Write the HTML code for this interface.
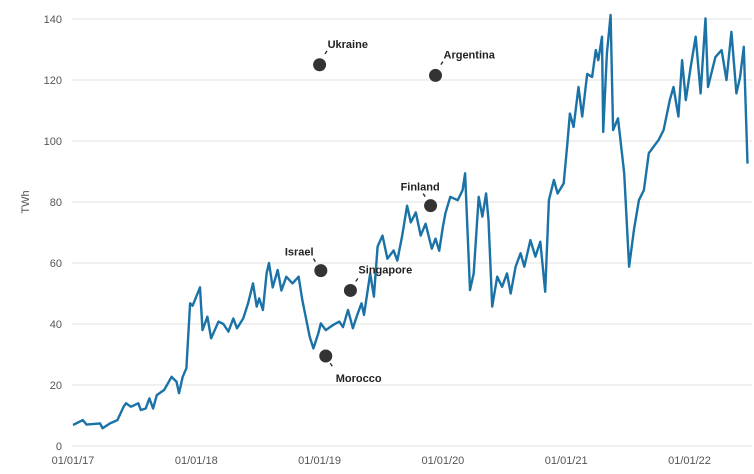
<!DOCTYPE html>
<html><head><meta charset="utf-8"><style>
body{margin:0;background:#fff;}
svg text{font-family:"Liberation Sans",sans-serif;}
.tick{font-size:11px;fill:#555;}
.lbl{font-size:11px;font-weight:bold;fill:#222;}
</style></head><body>
<svg id="chart" width="754" height="469" xmlns="http://www.w3.org/2000/svg">
<g id="grid"></g>
<g id="yaxis"></g>
<g id="xaxis"></g>
<text class="tick" transform="translate(29,202) rotate(-90)" text-anchor="middle">TWh</text>
<path id="line" fill="none" stroke="#1a72a6" stroke-width="2.4" stroke-linejoin="round"></path>
<g id="ann"></g>
</svg>
<script>
const yTicks=[0,20,40,60,80,100,120,140];
const xTickYears=[2017,2018,2019,2020,2021,2022];
const xTickLabels=["01/01/17","01/01/18","01/01/19","01/01/20","01/01/21","01/01/22"];
const dates=[2017.0,2017.08,2017.11,2017.22,2017.24,2017.30,2017.36,2017.41,2017.43,2017.47,2017.53,2017.55,2017.59,2017.62,2017.65,2017.68,2017.74,2017.80,2017.84,2017.86,2017.89,2017.92,2017.95,2017.97,2018.0,2018.03,2018.05,2018.09,2018.12,2018.18,2018.22,2018.26,2018.30,2018.33,2018.38,2018.42,2018.46,2018.49,2018.51,2018.54,2018.57,2018.59,2018.62,2018.66,2018.69,2018.73,2018.78,2018.83,2018.86,2018.92,2018.95,2018.99,2019.01,2019.05,2019.11,2019.16,2019.19,2019.23,2019.27,2019.30,2019.34,2019.36,2019.41,2019.44,2019.47,2019.51,2019.55,2019.60,2019.63,2019.67,2019.71,2019.74,2019.78,2019.82,2019.86,2019.91,2019.94,2019.97,2020.0,2020.02,2020.06,2020.12,2020.16,2020.18,2020.22,2020.25,2020.29,2020.32,2020.35,2020.37,2020.40,2020.44,2020.48,2020.52,2020.55,2020.59,2020.63,2020.66,2020.71,2020.75,2020.79,2020.83,2020.86,2020.90,2020.93,2020.98,2021.01,2021.03,2021.06,2021.10,2021.13,2021.17,2021.21,2021.24,2021.26,2021.29,2021.30,2021.33,2021.36,2021.38,2021.42,2021.47,2021.51,2021.55,2021.59,2021.63,2021.67,2021.71,2021.75,2021.79,2021.84,2021.87,2021.91,2021.94,2021.97,2022.01,2022.05,2022.09,2022.13,2022.15,2022.21,2022.26,2022.30,2022.34,2022.38,2022.41,2022.44,2022.47];
const values=[6.9,8.5,7,7.4,5.8,7.4,8.5,12.9,14,12.9,14,11.8,12.3,15.6,12.3,16.7,18.4,22.7,21,17.3,22.7,25.5,46.8,46,49,52,38,42.4,35.3,40.8,40,37.5,41.8,38.6,41.8,46.8,53.3,45.7,48.4,44.6,56.6,60,52,57.7,51,55.5,53.3,55.5,47.9,35.8,32,37,40.2,38,39.7,40.8,39,44.6,38.6,42.4,46.8,43,56.6,49,65.4,69,61.4,64.1,60.8,69,78.8,73.3,76.6,69,72.9,64.7,68,64,71.9,76.3,81.7,80.6,83.9,89.4,51.1,56.6,81.7,75.2,82.8,74.1,45.7,55.5,52.2,56.6,50,58.8,63.2,58.8,67.5,62.1,67,50.6,80.6,87.2,82.8,86.1,99.3,109,104.6,117.7,108,122,121,129.8,126.5,134.2,103,128.7,141.3,103.6,107.4,89.4,58.8,71,80.6,83.9,96,98.2,100.4,103.6,113.4,117.7,108,126.5,113.4,124.3,134.2,115.6,140.2,117.7,127.5,129.8,120,135.8,115.6,121,130.9,92.6];
const annNames=["Ukraine","Argentina","Finland","Israel","Singapore","Morocco"];
const annDates=[2019.0,2019.94,2019.9,2019.01,2019.25,2019.05];
const annValues=[125,121.5,78.8,57.5,51,29.5];
const annPos=[[6,-12,8,-17],[6,-12,8,-17],[-6,-10,-30,-15],[-6,-10,-36,-15],[6,-10,8,-17],[5,8,10,26]]; // leader/label offsets
const ns="http://www.w3.org/2000/svg";
const x=t=>73+(t-2017)*123.3;
const y=v=>446-v*3.05;
function mk(tag,attrs,parent){const e=document.createElementNS(ns,tag);for(const k in attrs)e.setAttribute(k,attrs[k]);parent.appendChild(e);return e;}
const grid=document.getElementById('grid'),ya=document.getElementById('yaxis'),xa=document.getElementById('xaxis'),ann=document.getElementById('ann');
yTicks.forEach(v=>{
 const l=mk('line',{x1:72,x2:752,y1:y(v),y2:y(v),stroke:'#e8e8e8','stroke-width':1.2},grid);
 
 
 const t=mk('text',{x:62,y:y(v)+4,'text-anchor':'end',class:'tick'},ya);
 
 
 t.textContent=v;
});
xTickYears.forEach((yr,i)=>{
 const t=mk('text',{x:x(yr),y:464,'text-anchor':'middle',class:'tick'},xa);
 
 
 t.textContent=xTickLabels[i];
});
document.getElementById('line').setAttribute('d',dates.map((d,i)=>(i?'L':'M')+x(d).toFixed(1)+','+y(values[i]).toFixed(1)).join(''));
annNames.forEach((n,i)=>{
 const cx=x(annDates[i]),cy=y(annValues[i]),p=annPos[i];
 const c=mk('circle',{cx:cx,cy:cy,r:6.5,fill:'#333'},ann);
 
 
 const sx=Math.sign(p[0]),sy=Math.sign(p[1]);
 const l=mk('line',{x1:cx+p[0]*0.9,y1:cy+p[1]*0.9,x2:cx+p[0]*0.9+sx*2,y2:cy+p[1]*0.9+sy*3,stroke:'#222','stroke-width':1.3},ann);
 
 
 const t=mk('text',{x:cx+p[2],y:cy+p[3],class:'lbl'},ann);
 
 
 t.textContent=n;
});
</script>
</body></html>
